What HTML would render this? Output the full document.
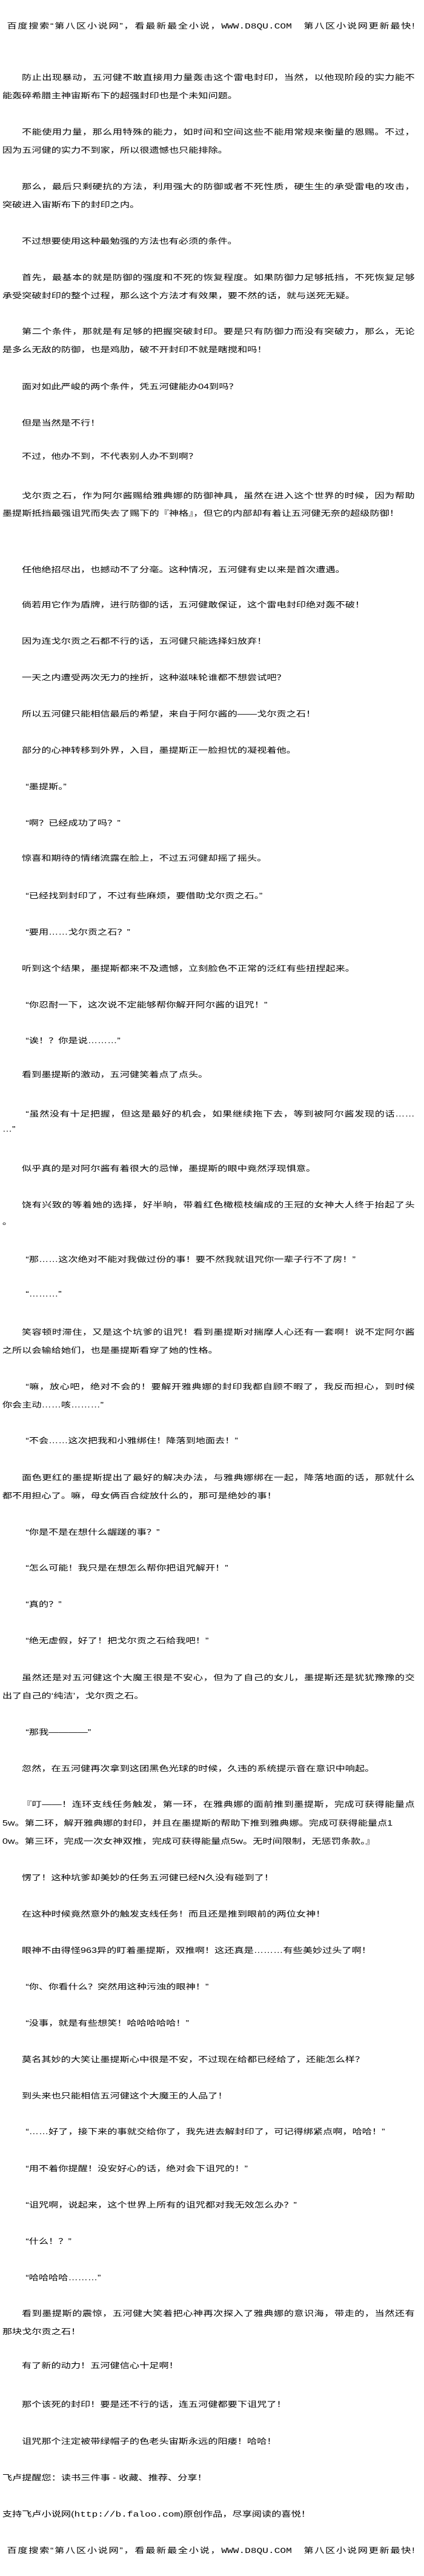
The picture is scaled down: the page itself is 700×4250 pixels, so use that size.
<!DOCTYPE html>
<html><head><meta charset="utf-8">
<style>
html,body{margin:0;padding:0;background:#fff;}
body{width:700px;height:4250px;overflow:hidden;position:relative;}
#w{position:absolute;left:0;top:0;width:545px;height:4250px;transform:scaleX(1.2845);transform-origin:0 0;
font-family:"Liberation Sans","Noto Sans CJK SC",sans-serif;font-size:12.6px;color:#000;}
.l{position:absolute;height:30px;line-height:30px;white-space:nowrap;}
.i{left:28px;}
.q{left:33px;}
.n{left:3px;}
.h{left:9px;}
.j{right:12px;text-align:justify;text-align-last:justify;white-space:normal;overflow:hidden;}
.m{font-family:"Liberation Mono",monospace;}
</style></head><body><div id="w">
<div class="l h j" style="top:28px">百度搜索“第八区小说网”，看最新最全小说，<span class="m">WWW.D8QU.COM</span>　第八区小说网更新最快!</div>
<div class="l i j" style="top:113px">防止出现暴动，五河健不敢直接用力量轰击这个雷电封印，当然，以他现阶段的实力能不</div>
<div class="l n" style="top:143px">能轰碎希腊主神宙斯布下的超强封印也是个未知问题。</div>
<div class="l i j" style="top:203px">不能使用力量，那么用特殊的能力，如时间和空间这些不能用常规来衡量的恩赐。不过，</div>
<div class="l n" style="top:233px">因为五河健的实力不到家，所以很遗憾也只能排除。</div>
<div class="l i j" style="top:293px">那么，最后只剩硬抗的方法，利用强大的防御或者不死性质，硬生生的承受雷电的攻击，</div>
<div class="l n" style="top:323px">突破进入宙斯布下的封印之内。</div>
<div class="l i" style="top:383px">不过想要使用这种最勉强的方法也有必须的条件。</div>
<div class="l i j" style="top:443px">首先，最基本的就是防御的强度和不死的恢复程度。如果防御力足够抵挡，不死恢复足够</div>
<div class="l n" style="top:473px">承受突破封印的整个过程，那么这个方法才有效果，要不然的话，就与送死无疑。</div>
<div class="l i j" style="top:532px">第二个条件，那就是有足够的把握突破封印。要是只有防御力而没有突破力，那么，无论</div>
<div class="l n" style="top:562px">是多么无敌的防御，也是鸡肋，破不开封印不就是瞎搅和吗！</div>
<div class="l i" style="top:623px">面对如此严峻的两个条件，凭五河健能办04到吗？</div>
<div class="l i" style="top:683px">但是当然是不行！</div>
<div class="l i" style="top:738px">不过，他办不到，不代表别人办不到啊？</div>
<div class="l i j" style="top:803px">戈尔贡之石，作为阿尔酱赐给雅典娜的防御神具，虽然在进入这个世界的时候，因为帮助</div>
<div class="l n" style="top:832px">墨提斯抵挡最强诅咒而失去了赐下的『神格』，但它的内部却有着让五河健无奈的超级防御！</div>
<div class="l i" style="top:925px">任他绝招尽出，也撼动不了分毫。这种情况，五河健有史以来是首次遭遇。</div>
<div class="l i" style="top:983px">倘若用它作为盾牌，进行防御的话，五河健敢保证，这个雷电封印绝对轰不破！</div>
<div class="l i" style="top:1043px">因为连戈尔贡之石都不行的话，五河健只能选择妇放弃！</div>
<div class="l i" style="top:1103px">一天之内遭受两次无力的挫折，这种滋味轮谁都不想尝试吧？</div>
<div class="l i" style="top:1163px">所以五河健只能相信最后的希望，来自于阿尔酱的——戈尔贡之石！</div>
<div class="l i" style="top:1223px">部分的心神转移到外界，入目，墨提斯正一脸担忧的凝视着他。</div>
<div class="l q" style="top:1283px">“墨提斯。”</div>
<div class="l q" style="top:1343px">“啊？已经成功了吗？”</div>
<div class="l i" style="top:1401px">惊喜和期待的情绪流露在脸上，不过五河健却摇了摇头。</div>
<div class="l q" style="top:1463px">“已经找到封印了，不过有些麻烦，要借助戈尔贡之石。”</div>
<div class="l q" style="top:1523px">“要用……戈尔贡之石？”</div>
<div class="l i" style="top:1583px">听到这个结果，墨提斯都来不及遗憾，立刻脸色不正常的泛红有些扭捏起来。</div>
<div class="l q" style="top:1643px">“你忍耐一下，这次说不定能够帮你解开阿尔酱的诅咒！”</div>
<div class="l q" style="top:1702px">“诶！？你是说………”</div>
<div class="l i" style="top:1758px">看到墨提斯的激动，五河健笑着点了点头。</div>
<div class="l q j" style="top:1823px">“虽然没有十足把握，但这是最好的机会，如果继续拖下去，等到被阿尔酱发现的话……</div>
<div class="l n" style="top:1848px">…”</div>
<div class="l i" style="top:1913px">似乎真的是对阿尔酱有着很大的忌惮，墨提斯的眼中竟然浮现惧意。</div>
<div class="l i j" style="top:1973px">饶有兴致的等着她的选择，好半晌，带着红色橄榄枝编成的王冠的女神大人终于抬起了头</div>
<div class="l n" style="top:2001px">。</div>
<div class="l q" style="top:2063px">“那……这次绝对不能对我做过份的事！要不然我就诅咒你一辈子行不了房！”</div>
<div class="l q" style="top:2120px">“………”</div>
<div class="l i j" style="top:2183px">笑容顿时滞住，又是这个坑爹的诅咒！看到墨提斯对揣摩人心还有一套啊！说不定阿尔酱</div>
<div class="l n" style="top:2213px">之所以会输给她们，也是墨提斯看穿了她的性格。</div>
<div class="l q j" style="top:2273px">“嘛，放心吧，绝对不会的！要解开雅典娜的封印我都自顾不暇了，我反而担心，到时候</div>
<div class="l n" style="top:2303px">你会主动……咳………”</div>
<div class="l q" style="top:2362px">“不会……这次把我和小雅绑住！降落到地面去！”</div>
<div class="l i j" style="top:2423px">面色更红的墨提斯提出了最好的解决办法，与雅典娜绑在一起，降落地面的话，那就什么</div>
<div class="l n" style="top:2453px">都不用担心了。嘛，母女俩百合绽放什么的，那可是绝妙的事！</div>
<div class="l q" style="top:2513px">“你是不是在想什么龌蹉的事？”</div>
<div class="l q" style="top:2572px">“怎么可能！我只是在想怎么帮你把诅咒解开！”</div>
<div class="l q" style="top:2632px">“真的？”</div>
<div class="l q" style="top:2692px">“绝无虚假，好了！把戈尔贡之石给我吧！”</div>
<div class="l i j" style="top:2753px">虽然还是对五河健这个大魔王很是不安心，但为了自己的女儿，墨提斯还是犹犹豫豫的交</div>
<div class="l n" style="top:2783px">出了自己的‘纯洁’，戈尔贡之石。</div>
<div class="l q" style="top:2843px">“那我————”</div>
<div class="l i" style="top:2903px">忽然，在五河健再次拿到这团黑色光球的时候，久违的系统提示音在意识中响起。</div>
<div class="l i j" style="top:2962px">『叮——！连环支线任务触发，第一环，在雅典娜的面前推到墨提斯，完成可获得能量点</div>
<div class="l n" style="top:2993px">5w。第二环，解开雅典娜的封印，并且在墨提斯的帮助下推到雅典娜。完成可获得能量点1</div>
<div class="l n" style="top:3023px">0w。第三环，完成一次女神双推，完成可获得能量点5w。无时间限制，无惩罚条款。』</div>
<div class="l i" style="top:3083px">愣了！这种坑爹却美妙的任务五河健已经N久没有碰到了！</div>
<div class="l i" style="top:3143px">在这种时候竟然意外的触发支线任务！而且还是推到眼前的两位女神！</div>
<div class="l i" style="top:3203px">眼神不由得怪963异的盯着墨提斯，双推啊！这还真是………有些美妙过头了啊！</div>
<div class="l q" style="top:3263px">“你、你看什么？突然用这种污浊的眼神！”</div>
<div class="l q" style="top:3323px">“没事，就是有些想笑！哈哈哈哈哈！”</div>
<div class="l i" style="top:3383px">莫名其妙的大笑让墨提斯心中很是不安，不过现在给都已经给了，还能怎么样？</div>
<div class="l i" style="top:3443px">到头来也只能相信五河健这个大魔王的人品了！</div>
<div class="l q" style="top:3502px">“……好了，接下来的事就交给你了，我先进去解封印了，可记得绑紧点啊，哈哈！”</div>
<div class="l q" style="top:3563px">“用不着你提醒！没安好心的话，绝对会下诅咒的！”</div>
<div class="l q" style="top:3623px">“诅咒啊，说起来，这个世界上所有的诅咒都对我无效怎么办？”</div>
<div class="l q" style="top:3683px">“什么！？”</div>
<div class="l q" style="top:3743px">“哈哈哈哈………”</div>
<div class="l i j" style="top:3802px">看到墨提斯的震惊，五河健大笑着把心神再次探入了雅典娜的意识海，带走的，当然还有</div>
<div class="l n" style="top:3832px">那块戈尔贡之石！</div>
<div class="l i" style="top:3888px">有了新的动力！五河健信心十足啊！</div>
<div class="l i" style="top:3952px">那个该死的封印！要是还不行的话，连五河健都要下诅咒了！</div>
<div class="l i" style="top:4013px">诅咒那个注定被带绿帽子的色老头宙斯永远的阳痿！哈哈！</div>
<div class="l n" style="top:4073px">飞卢提醒您：读书三件事 - 收藏、推荐、分享！</div>
<div class="l n" style="top:4133px">支持飞卢小说网(<span class="m">http://b.faloo.com</span>)原创作品，尽享阅读的喜悦！</div>
<div class="l h j" style="top:4193px">百度搜索“第八区小说网”，看最新最全小说，<span class="m">WWW.D8QU.COM</span>　第八区小说网更新最快!</div>
</div></body></html>
